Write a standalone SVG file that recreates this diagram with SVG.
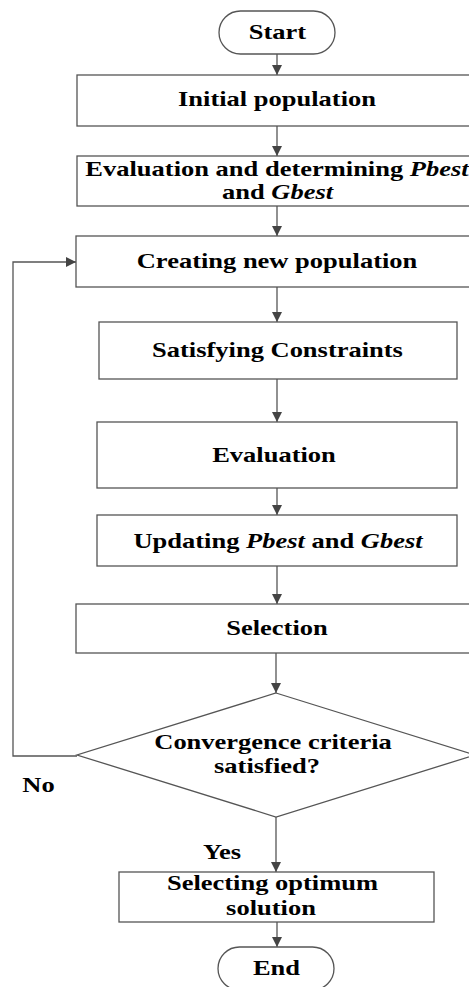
<svg xmlns="http://www.w3.org/2000/svg" width="469" height="987" viewBox="0 0 469 987">
<style>
.box{fill:#fff;stroke:#555;stroke-width:1.3}
.ln{fill:none;stroke:#555;stroke-width:1.3}
text{font-family:"Liberation Serif","Times New Roman",serif;font-weight:bold;font-size:21px;fill:#000;text-anchor:middle}
.it{font-style:italic}
</style>
<defs>
<marker id="ah" viewBox="0 0 10 10" refX="10" refY="5" markerWidth="10" markerHeight="10" markerUnits="userSpaceOnUse" orient="auto">
<path d="M0,0 L10,5 L0,10 z" fill="#444"/>
</marker>
</defs>
<rect width="469" height="987" fill="#fff"/>
<g id="connectors">
<line class="ln" x1="277" y1="54" x2="277" y2="75" marker-end="url(#ah)"/>
<line class="ln" x1="277" y1="126" x2="277" y2="156" marker-end="url(#ah)"/>
<line class="ln" x1="277" y1="206" x2="277" y2="236" marker-end="url(#ah)"/>
<line class="ln" x1="277" y1="287" x2="277" y2="322" marker-end="url(#ah)"/>
<line class="ln" x1="277" y1="379" x2="277" y2="422" marker-end="url(#ah)"/>
<line class="ln" x1="277" y1="488" x2="277" y2="515" marker-end="url(#ah)"/>
<line class="ln" x1="277" y1="566" x2="277" y2="604" marker-end="url(#ah)"/>
<line class="ln" x1="276" y1="653" x2="276" y2="693" marker-end="url(#ah)"/>
<line class="ln" x1="276" y1="817" x2="276" y2="872" marker-end="url(#ah)"/>
<line class="ln" x1="277" y1="922" x2="277" y2="947" marker-end="url(#ah)"/>
<polyline class="ln" points="77,756 13,756 13,262 76,262" marker-end="url(#ah)"/>
<text x="0" y="792" transform="translate(38.5,0) scale(1.262,1)">No</text>
<text x="0" y="859" transform="translate(222,0) scale(1.262,1)">Yes</text>
</g>
<g id="start">
<rect class="box" x="219" y="11" width="116" height="43" rx="21.5"/>
<text x="0" y="39" transform="translate(277.5,0) scale(1.262,1)">Start</text>
</g>
<g id="initial">
<rect class="box" x="77" y="75" width="400" height="51"/>
<text x="0" y="106" transform="translate(277,0) scale(1.262,1)">Initial population</text>
</g>
<g id="evaluation1">
<rect class="box" x="77" y="156" width="400" height="50"/>
<text x="0" y="176" transform="translate(277,0) scale(1.262,1)">Evaluation and determining <tspan class="it">Pbest</tspan></text>
<text x="0" y="199" transform="translate(277.5,0) scale(1.262,1)">and <tspan class="it">Gbest</tspan></text>
</g>
<g id="creating">
<rect class="box" x="76" y="236" width="402" height="51"/>
<text x="0" y="268" transform="translate(277,0) scale(1.262,1)">Creating new population</text>
</g>
<g id="satisfying">
<rect class="box" x="99" y="322" width="358" height="57"/>
<text x="0" y="357" transform="translate(277.5,0) scale(1.262,1)">Satisfying Constraints</text>
</g>
<g id="evaluation2">
<rect class="box" x="97" y="422" width="360" height="66"/>
<text x="0" y="462" transform="translate(274,0) scale(1.262,1)">Evaluation</text>
</g>
<g id="updating">
<rect class="box" x="97" y="515" width="360" height="51"/>
<text x="0" y="548" transform="translate(278,0) scale(1.262,1)">Updating <tspan class="it">Pbest</tspan> and <tspan class="it">Gbest</tspan></text>
</g>
<g id="selection">
<rect class="box" x="76" y="604" width="402" height="49"/>
<text x="0" y="635" transform="translate(277,0) scale(1.262,1)">Selection</text>
</g>
<g id="convergence">
<polygon class="box" points="276,693 475,755 276,817 77,755"/>
<text x="0" y="749" transform="translate(273,0) scale(1.262,1)">Convergence criteria</text>
<text x="0" y="773" transform="translate(267,0) scale(1.262,1)">satisfied?</text>
</g>
<g id="optimum">
<rect class="box" x="119" y="872" width="315" height="50"/>
<text x="0" y="890" transform="translate(272.5,0) scale(1.262,1)">Selecting optimum</text>
<text x="0" y="915" transform="translate(271,0) scale(1.262,1)">solution</text>
</g>
<g id="end">
<rect class="box" x="218" y="947" width="116" height="43" rx="21.5"/>
<text x="0" y="975" transform="translate(276.5,0) scale(1.262,1)">End</text>
</g>
</svg>
